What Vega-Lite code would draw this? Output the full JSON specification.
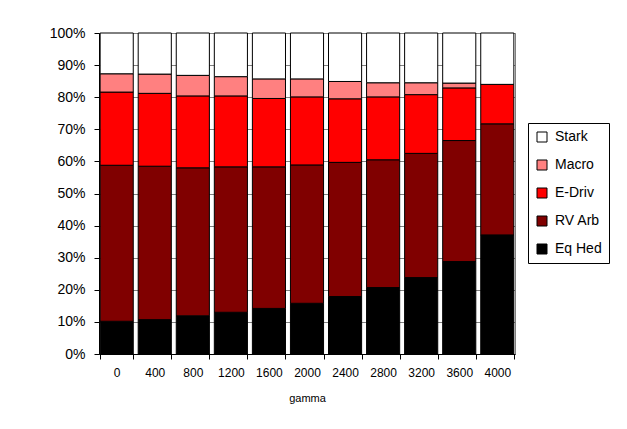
{
  "$schema": "https://vega.github.io/schema/vega-lite/v6.json",
  "width": 416,
  "height": 321,
  "autosize": {"type": "none"},
  "padding": {"left": 99, "top": 33, "right": 112, "bottom": 75},
  "background": "white",
  "config": {
    "font": "Liberation Sans",
    "view": {"stroke": "#808080", "strokeWidth": 1}
  },
  "data": {
    "values": [
      {"gamma": 0, "series": "Eq Hed", "rank": 1, "share": 10.2},
      {"gamma": 0, "series": "RV Arb", "rank": 2, "share": 48.6},
      {"gamma": 0, "series": "E-Driv", "rank": 3, "share": 22.8},
      {"gamma": 0, "series": "Macro", "rank": 4, "share": 5.7},
      {"gamma": 0, "series": "Stark", "rank": 5, "share": 12.7},
      {"gamma": 400, "series": "Eq Hed", "rank": 1, "share": 10.7},
      {"gamma": 400, "series": "RV Arb", "rank": 2, "share": 47.8},
      {"gamma": 400, "series": "E-Driv", "rank": 3, "share": 22.7},
      {"gamma": 400, "series": "Macro", "rank": 4, "share": 6.0},
      {"gamma": 400, "series": "Stark", "rank": 5, "share": 12.8},
      {"gamma": 800, "series": "Eq Hed", "rank": 1, "share": 11.9},
      {"gamma": 800, "series": "RV Arb", "rank": 2, "share": 46.1},
      {"gamma": 800, "series": "E-Driv", "rank": 3, "share": 22.4},
      {"gamma": 800, "series": "Macro", "rank": 4, "share": 6.4},
      {"gamma": 800, "series": "Stark", "rank": 5, "share": 13.2},
      {"gamma": 1200, "series": "Eq Hed", "rank": 1, "share": 13.0},
      {"gamma": 1200, "series": "RV Arb", "rank": 2, "share": 45.3},
      {"gamma": 1200, "series": "E-Driv", "rank": 3, "share": 22.1},
      {"gamma": 1200, "series": "Macro", "rank": 4, "share": 6.0},
      {"gamma": 1200, "series": "Stark", "rank": 5, "share": 13.6},
      {"gamma": 1600, "series": "Eq Hed", "rank": 1, "share": 14.2},
      {"gamma": 1600, "series": "RV Arb", "rank": 2, "share": 44.1},
      {"gamma": 1600, "series": "E-Driv", "rank": 3, "share": 21.3},
      {"gamma": 1600, "series": "Macro", "rank": 4, "share": 6.1},
      {"gamma": 1600, "series": "Stark", "rank": 5, "share": 14.3},
      {"gamma": 2000, "series": "Eq Hed", "rank": 1, "share": 15.8},
      {"gamma": 2000, "series": "RV Arb", "rank": 2, "share": 43.1},
      {"gamma": 2000, "series": "E-Driv", "rank": 3, "share": 21.2},
      {"gamma": 2000, "series": "Macro", "rank": 4, "share": 5.6},
      {"gamma": 2000, "series": "Stark", "rank": 5, "share": 14.3},
      {"gamma": 2400, "series": "Eq Hed", "rank": 1, "share": 17.9},
      {"gamma": 2400, "series": "RV Arb", "rank": 2, "share": 41.8},
      {"gamma": 2400, "series": "E-Driv", "rank": 3, "share": 19.8},
      {"gamma": 2400, "series": "Macro", "rank": 4, "share": 5.4},
      {"gamma": 2400, "series": "Stark", "rank": 5, "share": 15.1},
      {"gamma": 2800, "series": "Eq Hed", "rank": 1, "share": 20.7},
      {"gamma": 2800, "series": "RV Arb", "rank": 2, "share": 39.8},
      {"gamma": 2800, "series": "E-Driv", "rank": 3, "share": 19.6},
      {"gamma": 2800, "series": "Macro", "rank": 4, "share": 4.4},
      {"gamma": 2800, "series": "Stark", "rank": 5, "share": 15.5},
      {"gamma": 3200, "series": "Eq Hed", "rank": 1, "share": 23.8},
      {"gamma": 3200, "series": "RV Arb", "rank": 2, "share": 38.7},
      {"gamma": 3200, "series": "E-Driv", "rank": 3, "share": 18.3},
      {"gamma": 3200, "series": "Macro", "rank": 4, "share": 3.7},
      {"gamma": 3200, "series": "Stark", "rank": 5, "share": 15.5},
      {"gamma": 3600, "series": "Eq Hed", "rank": 1, "share": 28.8},
      {"gamma": 3600, "series": "RV Arb", "rank": 2, "share": 37.7},
      {"gamma": 3600, "series": "E-Driv", "rank": 3, "share": 16.4},
      {"gamma": 3600, "series": "Macro", "rank": 4, "share": 1.5},
      {"gamma": 3600, "series": "Stark", "rank": 5, "share": 15.6},
      {"gamma": 4000, "series": "Eq Hed", "rank": 1, "share": 37.1},
      {"gamma": 4000, "series": "RV Arb", "rank": 2, "share": 34.6},
      {"gamma": 4000, "series": "E-Driv", "rank": 3, "share": 12.3},
      {"gamma": 4000, "series": "Macro", "rank": 4, "share": 0.0},
      {"gamma": 4000, "series": "Stark", "rank": 5, "share": 16.0}
    ]
  },
  "mark": {"type": "bar", "stroke": "black", "strokeWidth": 1},
  "encoding": {
    "x": {
      "field": "gamma",
      "type": "ordinal",
      "scale": {"paddingInner": 0.13, "paddingOuter": 0.03},
      "axis": {
        "title": "gamma",
        "labelAngle": 0,
        "labelFontSize": 12,
        "labelColor": "black",
        "labelPadding": 8,
        "tickBand": "extent",
        "tickSize": 5,
        "tickColor": "black",
        "domainColor": "black",
        "titleFontSize": 11,
        "titleFontWeight": "normal",
        "titleColor": "black",
        "titlePadding": 14
      }
    },
    "y": {
      "field": "share",
      "type": "quantitative",
      "stack": "normalize",
      "scale": {"domain": [0, 1], "nice": false},
      "axis": {
        "title": null,
        "format": ".0%",
        "values": [0, 0.1, 0.2, 0.3, 0.4, 0.5, 0.6, 0.7, 0.8, 0.9, 1],
        "labelFontSize": 14,
        "labelColor": "black",
        "labelPadding": 9,
        "tickSize": 5,
        "tickColor": "black",
        "domainColor": "black",
        "gridColor": "#808080",
        "gridOpacity": 1
      }
    },
    "color": {
      "field": "series",
      "type": "nominal",
      "scale": {
        "domain": ["Stark", "Macro", "E-Driv", "RV Arb", "Eq Hed"],
        "range": ["#FFFFFF", "#FF8080", "#FF0000", "#800000", "#000000"]
      },
      "legend": {
        "title": null,
        "orient": "none",
        "legendX": 429,
        "legendY": 90,
        "strokeColor": "black",
        "fillColor": "white",
        "padding": 7,
        "symbolType": "square",
        "symbolSize": 100,
        "symbolStrokeColor": "black",
        "symbolStrokeWidth": 1,
        "labelFontSize": 14,
        "labelColor": "black",
        "labelOffset": 6,
        "rowPadding": 14
      }
    },
    "order": {"field": "rank", "type": "quantitative"}
  }
}
